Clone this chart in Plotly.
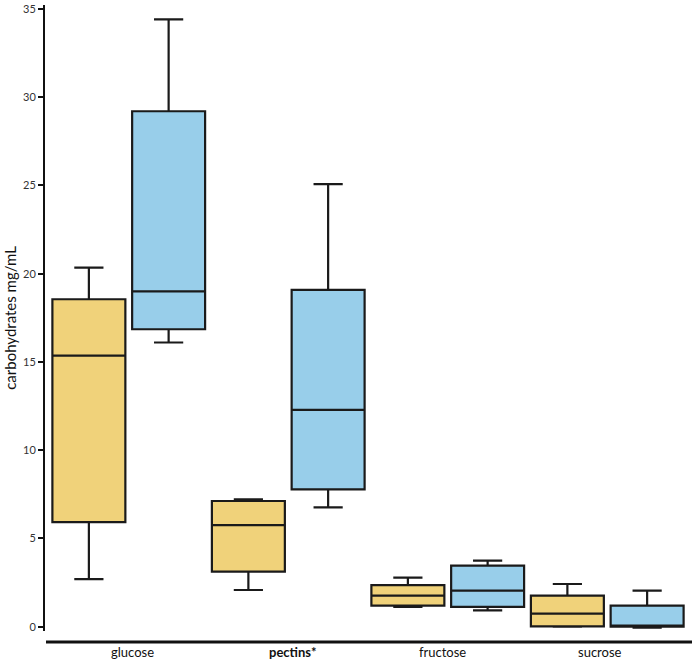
import plotly.graph_objects as go

categories = ["glucose", "pectins", "fructose", "sucrose"]
tick_labels = ["glucose", "<b>pectins*</b>", "fructose", "sucrose"]

# yellow series
y_low = [2.7, 2.08, 1.12, 0.0]
y_q1 = [5.92, 3.12, 1.19, 0.02]
y_med = [15.36, 5.76, 1.76, 0.74]
y_q3 = [18.55, 7.12, 2.36, 1.76]
y_high = [20.34, 7.22, 2.78, 2.42]

# blue series
b_low = [16.1, 6.76, 0.93, -0.05]
b_q1 = [16.85, 7.78, 1.12, 0.0]
b_med = [19.0, 12.28, 2.04, 0.02]
b_q3 = [29.2, 19.08, 3.46, 1.19]
b_high = [34.4, 25.07, 3.74, 2.04]

y_ticks = [0, 5, 10, 15, 20, 25, 30, 35]

W, H = 692, 660
ML, MR, MT, MB = 44, 5, 5, 19
PW = W - ML - MR
PH = H - MT - MB


def px_x(p):
    return (p - ML) / PW


def px_y(p):
    return (H - MB - p) / PH


fig = go.Figure()
fig.add_trace(go.Box(
    x=categories, q1=y_q1, median=y_med, q3=y_q3, lowerfence=y_low, upperfence=y_high,
    fillcolor="#F0D27A", line=dict(color="#1a1a1a", width=2.2), whiskerwidth=0.4,
    name="A", showlegend=False, boxpoints=False,
))
fig.add_trace(go.Box(
    x=categories, q1=b_q1, median=b_med, q3=b_q3, lowerfence=b_low, upperfence=b_high,
    fillcolor="#98CEEA", line=dict(color="#1a1a1a", width=2.2), whiskerwidth=0.4,
    name="B", showlegend=False, boxpoints=False,
))

label_shift = [4, 4, -5, -7]
annotations = [dict(text="carbohydrates mg/mL", xref="paper", yref="y",
                    x=px_x(10), y=17.5, textangle=-90, showarrow=False,
                    font=dict(size=15, color="#111"), xanchor="center", yanchor="middle")]
for c, t, s in zip(categories, tick_labels, label_shift):
    annotations.append(dict(text=t, xref="x", yref="paper", x=c, y=px_y(651.5), xshift=s,
                            showarrow=False, xanchor="center", yanchor="middle",
                            font=dict(size=13, color="#111")))

fig.update_layout(
    width=W, height=H,
    margin=dict(l=ML, r=MR, t=MT, b=MB, autoexpand=False),
    paper_bgcolor="white", plot_bgcolor="white",
    boxmode="group", boxgap=0.0, boxgroupgap=0.085,
    font=dict(family="Lato, Open Sans, sans-serif", color="#222"),
    xaxis=dict(
        type="category", categoryorder="array", categoryarray=categories,
        range=[-0.5, 3.5], domain=[px_x(49), 1.0],
        showline=False, ticks="", showticklabels=False, automargin=False,
        showgrid=False, zeroline=False,
    ),
    yaxis=dict(
        range=[-0.81, 35.22], tickvals=y_ticks, ticks="outside", ticklen=6,
        anchor="free", position=0.0,
        tickwidth=2, tickcolor="#111", showline=False, showgrid=False, automargin=False,
        zeroline=False, tickfont=dict(size=11, color="#333"),
    ),
    shapes=[
        dict(type="line", xref="paper", yref="y", x0=0, x1=0,
             y0=-0.25, y1=35.22, line=dict(color="#111", width=2)),
        dict(type="line", xref="paper", yref="paper", x0=px_x(46), x1=px_x(693),
             y0=px_y(642), y1=px_y(642), line=dict(color="#111", width=3)),
    ],
    annotations=annotations,
)

fig.write_html("out.html", config={"displayModeBar": False},
               post_script="document.body.style.margin='0px';document.body.style.overflow='hidden';")
